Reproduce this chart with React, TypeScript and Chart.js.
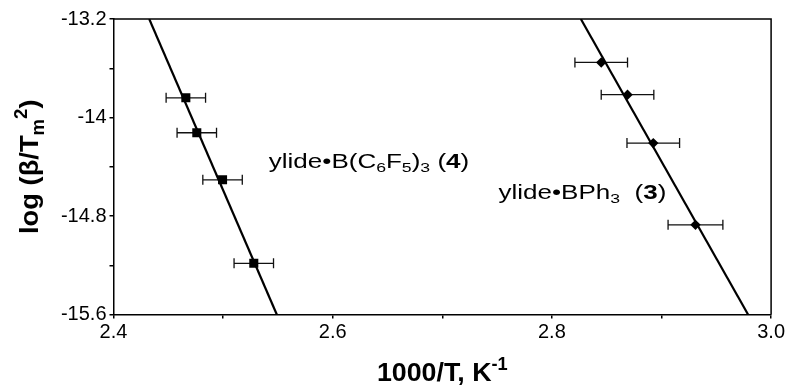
import React, { useEffect, useRef } from 'react';
import { Chart, registerables } from 'chart.js';

Chart.register(...registerables);

const FONT = '"Liberation Sans", Arial, Helvetica, sans-serif';

// x range / ticks
const xMin = 2.4;
const xMax = 3.0;
const xStep = 0.1;
const yMin = -15.6;
const yMax = -13.2;
const yStep = 0.4;

// ylide•B(C6F5)3 (4) – squares
const ylide4X = [2.466, 2.476, 2.4995, 2.528];
const ylide4Y = [-13.84, -14.124, -14.506, -15.184];
const ylide4XErr = [0.018, 0.018, 0.018, 0.018];

// ylide•BPh3 (3) – diamonds
const ylide3X = [2.845, 2.869, 2.8925, 2.931];
const ylide3Y = [-13.553, -13.815, -14.208, -14.872];
const ylide3XErr = [0.024, 0.024, 0.024, 0.025];

// fitted lines (end points)
const fit4X = [2.4326, 2.549];
const fit4Y = [-13.2, -15.6];
const fit3X = [2.8264, 2.979];
const fit3Y = [-13.2, -15.6];

// annotation anchors (data coords, left/baseline)
type Seg = { t: string; k?: 'sub' | 'sup'; b?: boolean };
const label4: Seg[] = [
  { t: 'ylide•B(C' }, { t: '6', k: 'sub' }, { t: 'F' }, { t: '5', k: 'sub' }, { t: ')' }, { t: '3', k: 'sub' },
  { t: ' (' }, { t: '4', b: true }, { t: ')' },
];
const label4Pos = { x: 2.5417, y: -14.409 };
const label3: Seg[] = [
  { t: 'ylide•BPh' }, { t: '3', k: 'sub' }, { t: '  (' }, { t: '3', b: true }, { t: ')' },
];
const label3Pos = { x: 2.7513, y: -14.661 };

const xTitle: Seg[] = [{ t: '1000/T, K', b: true }, { t: '-1', k: 'sup', b: true }];
const yTitle: Seg[] = [{ t: 'log (β/T', b: true }, { t: 'm', k: 'sub', b: true }, { t: '2', k: 'sup', b: true }, { t: ')', b: true }];

function drawRich(
  ctx: CanvasRenderingContext2D,
  segs: Seg[],
  x: number,
  y: number,
  size: number,
  align: 'left' | 'center',
  sx: number
) {
  const parts = segs.map((s) => {
    const small = s.k === 'sub' || s.k === 'sup';
    const fs = small ? size * 0.68 : size;
    const font = `${s.b ? 'bold ' : ''}${fs}px ${FONT}`;
    ctx.font = font;
    const w = ctx.measureText(s.t).width;
    const dy = s.k === 'sub' ? size * 0.22 : s.k === 'sup' ? -size * 0.42 : 0;
    return { ...s, font, w, dy };
  });
  const total = parts.reduce((a, p) => a + p.w, 0);
  ctx.save();
  ctx.translate(x, y);
  ctx.scale(sx, 1);
  let cx = align === 'center' ? -total / 2 : 0;
  ctx.textAlign = 'left';
  ctx.textBaseline = 'alphabetic';
  ctx.fillStyle = '#000';
  for (const p of parts) {
    ctx.font = p.font;
    ctx.fillText(p.t, cx, p.dy);
    cx += p.w;
  }
  ctx.restore();
}

const errorBarPlugin = {
  id: 'errorBars',
  beforeDatasetsDraw(chart: any) {
    const ctx = chart.ctx as CanvasRenderingContext2D;
    const xs = chart.scales.x;
    const ys = chart.scales.y;
    const sets = [
      { x: ylide4X, y: ylide4Y, e: ylide4XErr },
      { x: ylide3X, y: ylide3Y, e: ylide3XErr },
    ];
    ctx.save();
    ctx.strokeStyle = '#111';
    ctx.lineWidth = 1.3;
    for (const s of sets) {
      s.x.forEach((xv, i) => {
        const py = ys.getPixelForValue(s.y[i]);
        const l = xs.getPixelForValue(xv - s.e[i]);
        const r = xs.getPixelForValue(xv + s.e[i]);
        ctx.beginPath();
        ctx.moveTo(l, py);
        ctx.lineTo(r, py);
        ctx.moveTo(l, py - 5);
        ctx.lineTo(l, py + 5);
        ctx.moveTo(r, py - 5);
        ctx.lineTo(r, py + 5);
        ctx.stroke();
      });
    }
    ctx.restore();
  },
};

const decorPlugin = {
  id: 'decor',
  afterDraw(chart: any) {
    const ctx = chart.ctx as CanvasRenderingContext2D;
    const a = chart.chartArea;
    const xs = chart.scales.x;
    const ys = chart.scales.y;
    ctx.save();
    ctx.strokeStyle = '#000';
    ctx.lineWidth = 1.5;
    ctx.beginPath();
    ctx.moveTo(a.left, a.top);
    ctx.lineTo(a.right, a.top);
    ctx.lineTo(a.right, a.bottom);
    ctx.stroke();
    ctx.restore();

    drawRich(ctx, label4, xs.getPixelForValue(label4Pos.x), ys.getPixelForValue(label4Pos.y), 20, 'left', 1.3);
    drawRich(ctx, label3, xs.getPixelForValue(label3Pos.x), ys.getPixelForValue(label3Pos.y), 20, 'left', 1.3);

    // x title
    drawRich(ctx, xTitle, (a.left + a.right) / 2, 381, 26, 'center', 1.03);
    // y title (rotated)
    ctx.save();
    ctx.translate(38, (a.top + a.bottom) / 2);
    ctx.rotate(-Math.PI / 2);
    drawRich(ctx, yTitle, 0, 0, 26, 'center', 1.05);
    ctx.restore();
  },
};

export default function App() {
  const ref = useRef<HTMLCanvasElement | null>(null);
  useEffect(() => {
    if (!ref.current) return;
    const tickFont = { family: FONT, size: 20 };
    const chart = new Chart(ref.current, {
      type: 'scatter',
      data: {
        datasets: [
          {
            label: 'fit4',
            type: 'line',
            data: fit4X.map((x, i) => ({ x, y: fit4Y[i] })),
            borderColor: '#000',
            borderWidth: 2.2,
            pointRadius: 0,
            showLine: true,
            fill: false,
          },
          {
            label: 'fit3',
            type: 'line',
            data: fit3X.map((x, i) => ({ x, y: fit3Y[i] })),
            borderColor: '#000',
            borderWidth: 2.2,
            pointRadius: 0,
            showLine: true,
            fill: false,
          },
          {
            label: 'ylide•B(C6F5)3 (4)',
            data: ylide4X.map((x, i) => ({ x, y: ylide4Y[i] })),
            pointStyle: 'rect',
            pointRadius: 6.4,
            backgroundColor: '#000',
            borderColor: '#000',
            borderWidth: 0,
          },
          {
            label: 'ylide•BPh3 (3)',
            data: ylide3X.map((x, i) => ({ x, y: ylide3Y[i] })),
            pointStyle: 'rectRot',
            pointRadius: 5.2,
            backgroundColor: '#000',
            borderColor: '#000',
            borderWidth: 0,
          },
        ],
      },
      options: {
        animation: false,
        responsive: false,
        maintainAspectRatio: false,
        layout: { padding: { top: 19, right: 15, left: 0, bottom: 0 } },
        plugins: { legend: { display: false }, tooltip: { enabled: false } },
        scales: {
          x: {
            type: 'linear',
            min: xMin,
            max: xMax,
            ticks: {
              stepSize: xStep,
              autoSkip: false,
              maxRotation: 0,
              padding: 2,
              color: '#000',
              font: tickFont,
              callback: (v: any, i: number) => (i % 2 === 0 ? Number(v).toFixed(1) : ''),
            },
            grid: { display: true, drawOnChartArea: false, drawTicks: true, tickLength: 4, color: '#000', lineWidth: 1.5 },
            border: { display: true, color: '#000', width: 1.5 },
            afterFit: (s: any) => {
              s.height = 71.5;
            },
          },
          y: {
            type: 'linear',
            min: yMin,
            max: yMax,
            ticks: {
              stepSize: yStep,
              autoSkip: false,
              padding: 3,
              color: '#000',
              font: tickFont,
              callback: (v: any, i: number) => (i % 2 === 0 ? String(Number(Number(v).toFixed(1))) : ''),
            },
            grid: { display: true, drawOnChartArea: false, drawTicks: true, tickLength: 4, color: '#000', lineWidth: 1.5 },
            border: { display: true, color: '#000', width: 1.5 },
            afterFit: (s: any) => {
              s.width = 113.5;
            },
          },
        },
      },
      plugins: [errorBarPlugin, decorPlugin],
    } as any);
    return () => chart.destroy();
  }, []);
  return (
    <div style={{ position: 'absolute', left: 0, top: 0, width: 787, height: 386, background: '#fff' }}>
      <canvas ref={ref} width={787} height={386} />
    </div>
  );
}
